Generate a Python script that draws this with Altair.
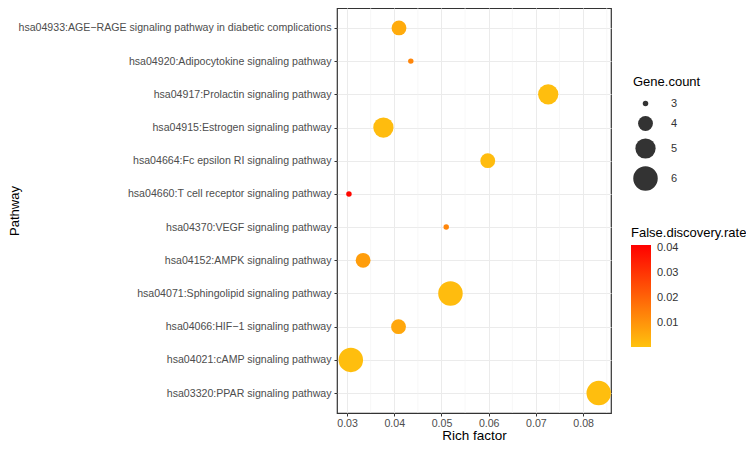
import altair as alt
import pandas as pd

pathways = [
    "hsa04933:AGE\u2212RAGE signaling pathway in diabetic complications",
    "hsa04920:Adipocytokine signaling pathway",
    "hsa04917:Prolactin signaling pathway",
    "hsa04915:Estrogen signaling pathway",
    "hsa04664:Fc epsilon RI signaling pathway",
    "hsa04660:T cell receptor signaling pathway",
    "hsa04370:VEGF signaling pathway",
    "hsa04152:AMPK signaling pathway",
    "hsa04071:Sphingolipid signaling pathway",
    "hsa04066:HIF\u22121 signaling pathway",
    "hsa04021:cAMP signaling pathway",
    "hsa03320:PPAR signaling pathway",
]
rich_factor = [0.0410, 0.0435, 0.0726, 0.0377, 0.0598, 0.0304,
               0.0510, 0.0334, 0.0519, 0.0409, 0.0308, 0.0833]
gene_count = [4, 3, 5, 5, 4, 3, 3, 4, 6, 4, 6, 6]
fdr = [0.005, 0.013, 0.001, 0.0015, 0.0015, 0.040,
       0.013, 0.008, 0.0015, 0.006, 0.001, 0.001]

minor_ticks = [0.035, 0.045, 0.055, 0.065, 0.075, 0.085]
major_ticks = [0.03, 0.04, 0.05, 0.06, 0.07, 0.08]

df = pd.DataFrame({
    "pathway": pathways,
    "rich": rich_factor,
    "count": gene_count,
    "fdr": fdr,
})
minor_df = pd.DataFrame({"rich": minor_ticks})

xscale = alt.Scale(domain=[0.02787, 0.0859], nice=False, zero=False)
xaxis = alt.Axis(values=major_ticks, format=".2f", title="Rich factor",
                 grid=True, gridColor="#EBEBEB", gridWidth=1,
                 domain=False, tickSize=3, tickColor="#333333",
                 labelColor="#4D4D4D", labelFontSize=10.6, labelPadding=2,
                 titleFontSize=13.5, titleFontWeight="normal", titleColor="#000000",
                 titlePadding=0, labelFont="Liberation Sans", titleFont="Liberation Sans")

minor = alt.Chart(minor_df).mark_rule(color="#F2F2F2", strokeWidth=0.6).encode(
    x=alt.X("rich:Q", scale=xscale, axis=xaxis)
)

points = alt.Chart(df).mark_circle(opacity=1, clip=True).encode(
    x=alt.X("rich:Q", scale=xscale, axis=xaxis),
    y=alt.Y("pathway:N", sort=pathways,
            scale=alt.Scale(type="point", padding=0.6),
            axis=alt.Axis(title="Pathway", grid=True, gridColor="#EBEBEB", gridWidth=1,
                          domain=False, tickSize=3, tickColor="#333333",
                          labelColor="#4D4D4D", labelFontSize=10.6, labelPadding=3,
                          labelLimit=400,
                          titleFontSize=13, titleFontWeight="normal", titleColor="#000000",
                          labelFont="Liberation Sans", titleFont="Liberation Sans",
                          titleX=-316)),
    size=alt.Size("count:Q",
                  scale=alt.Scale(domain=[3, 6], range=[30, 600]),
                  legend=alt.Legend(title="Gene.count", values=[3, 4, 5, 6], format="d",
                                    orient="none", legendX=296, legendY=68,
                                    symbolFillColor="#333333", symbolStrokeWidth=0,
                                    symbolOpacity=1,
                                    titleFontSize=13, titleFontWeight="normal",
                                    titleColor="#000000", labelFontSize=11,
                                    labelColor="#333333", titleFont="Liberation Sans",
                                    labelFont="Liberation Sans", rowPadding=7,
                                    labelOffset=13, titlePadding=9)),
    color=alt.Color("fdr:Q",
                    scale=alt.Scale(domain=[0.0002, 0.0414], range=["#FFC20E", "#FF0000"],
                                    interpolate="rgb", nice=False, zero=False),
                    legend=alt.Legend(title="False.discovery.rate", values=[0.01, 0.02, 0.03, 0.04],
                                      format=".2f",
                                      orient="none", legendX=294, legendY=219,
                                      gradientLength=102, gradientThickness=20,
                                      gradientStrokeWidth=0, labelOffset=6,
                                      titleFontSize=13, titleFontWeight="normal",
                                      titleColor="#000000", labelFontSize=11,
                                      labelColor="#333333", titleFont="Liberation Sans",
                                      labelFont="Liberation Sans", titlePadding=5)),
)

chart = (minor + points).properties(
    width=274, height=405,
    background="white",
    autosize=alt.AutoSizeParams(type="none"),
    padding={"left": 329, "top": 0, "right": 135, "bottom": 31},
).configure_view(stroke="#333333", strokeWidth=1.2)

chart.save("out.html", embed_options={"renderer": "svg", "actions": False})
